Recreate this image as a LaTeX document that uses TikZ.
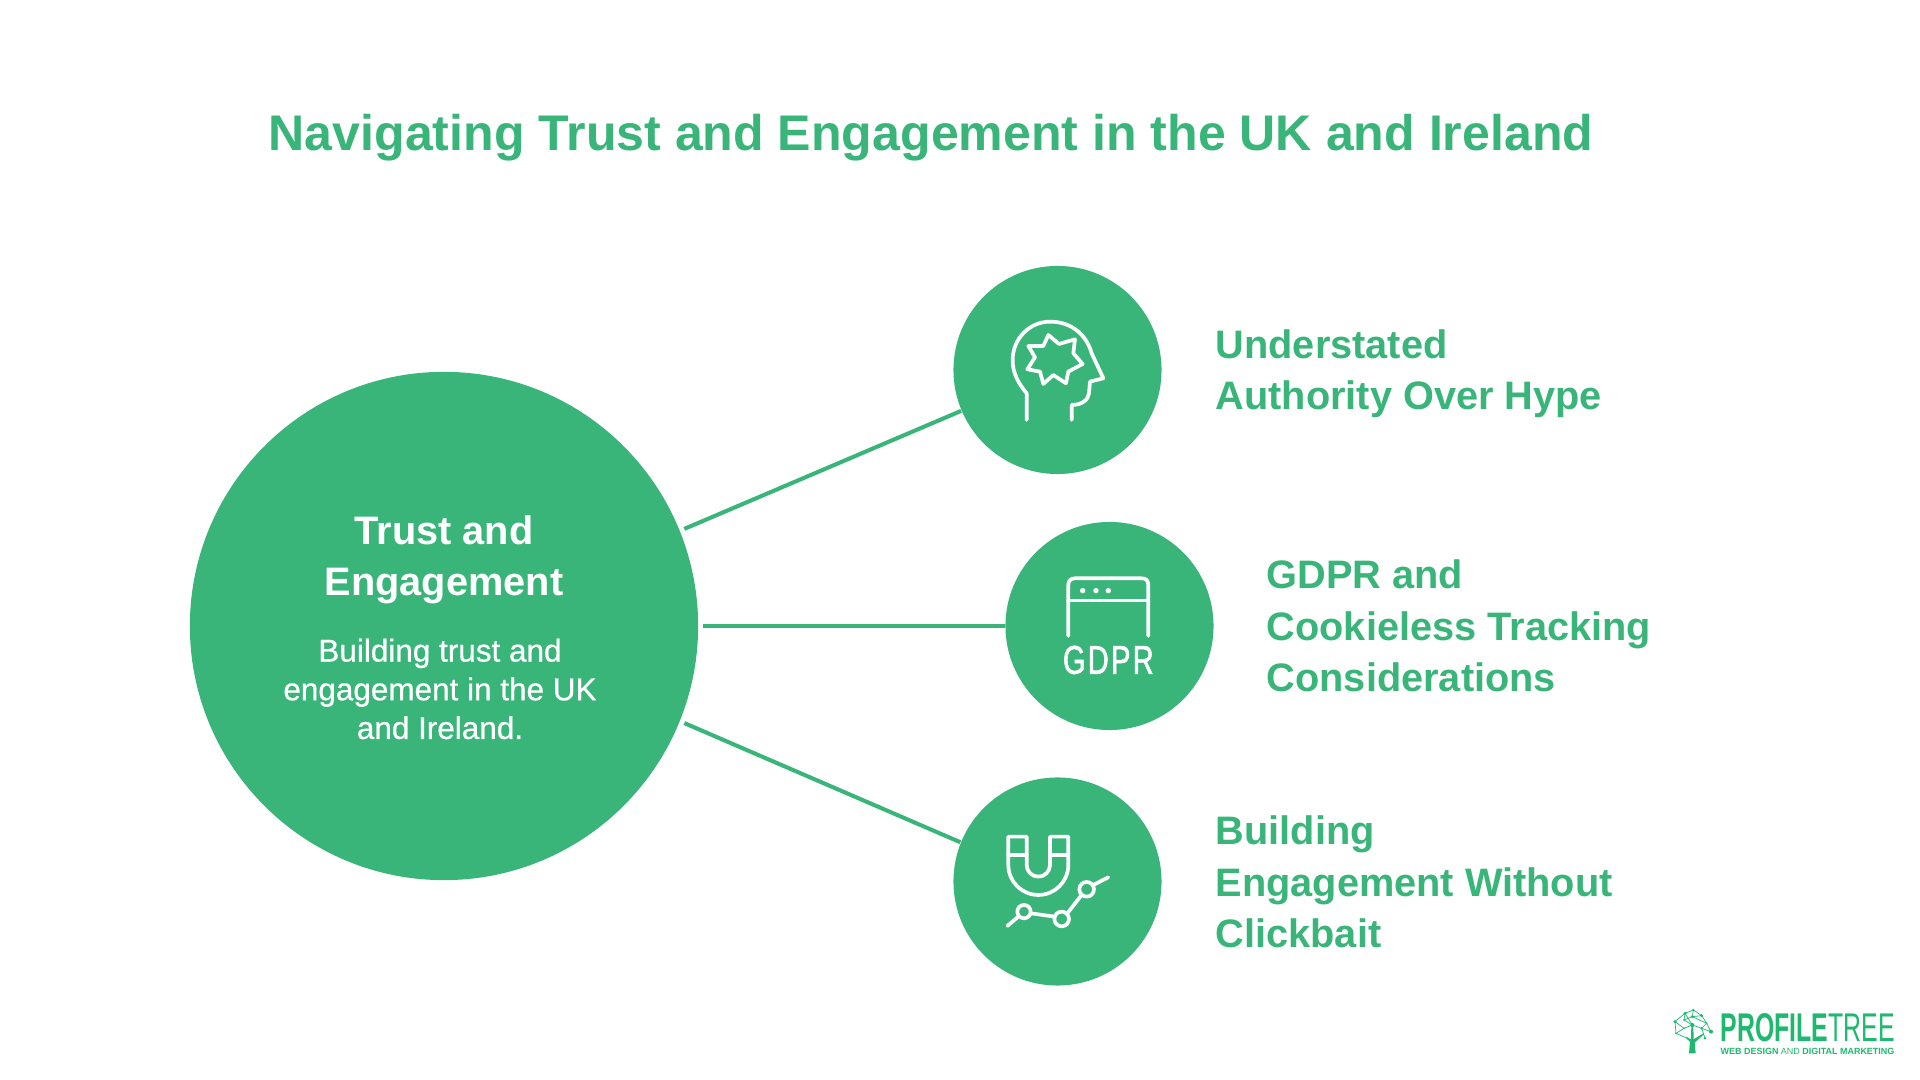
\documentclass[tikz,border=0pt]{standalone}
\usepackage{fontspec}
\setmainfont{Liberation Sans}
\newfontfamily\gdprfont[FakeStretch=0.72,LetterSpace=6,FakeBold=1.5]{Liberation Sans}
\newfontfamily\logofont[FakeStretch=0.62]{Liberation Sans}
\newfontfamily\bodyfont[FakeBold=0.6]{Liberation Sans}
\definecolor{mygreen}{RGB}{58,181,122}
\definecolor{logogreen}{RGB}{30,185,110}
\tikzset{
    hub/.style={circle,fill=mygreen,inner sep=0pt,minimum size=#1},
    spoke/.style={draw=mygreen,line width=1.15pt},
    itemtext/.style={anchor=west,align=left,text=mygreen,font=\fontsize{11.3}{14.6}\selectfont\bfseries,inner sep=0pt},
    icon/.style={draw=white,line width=1.05pt,line cap=round,line join=round},
    logoline/.style={draw=logogreen,line width=0.2pt},
    logodot/.style={fill=logogreen}
}
\begin{document}
\begin{tikzpicture}[x=0.01cm,y=-0.01cm]
    \useasboundingbox (0,0) rectangle (1920,1080);

    % Draw the title
    \node[text=mygreen,font=\fontsize{14.24}{17}\selectfont\bfseries,inner sep=0pt] (title) at (931,138) {Navigating Trust and Engagement in the UK and Ireland};

    % Draw the big circle and its text
    \node[hub=5.08cm,outer sep=0.05cm] (main) at (444,626) {};
    \node[align=center,text=white,font=\fontsize{11.3}{14.6}\selectfont\bfseries,inner sep=0pt] (maintitle) at (444,560) {Trust and\\Engagement};
    \node[align=center,text=white,font=\bodyfont\fontsize{8.95}{11}\selectfont,inner sep=0pt] (mainbody) at (440,689) {Building trust and\\engagement in the UK\\and Ireland.};

    % Draw the three small circles
    \node[hub=2.08cm] (head) at (1057.5,370) {};
    \node[hub=2.08cm] (gdpr) at (1109.5,626) {};
    \node[hub=2.08cm] (magnet) at (1057.5,881.5) {};

    % Draw the connectors
    \draw[spoke] (main.22.5) -- (head.203);
    \draw[spoke] (main.0) -- (gdpr.180);
    \draw[spoke] (main.-22.5) -- (magnet.158);

    % Draw the item labels
    \node[itemtext] (headtext) at (1215,374) {Understated\\Authority Over Hype};
    \node[itemtext] (gdprtext) at (1266,626) {GDPR and\\Cookieless Tracking\\Considerations};
    \node[itemtext] (magnettext) at (1215,882) {Building\\Engagement Without\\Clickbait};

    % Draw the head icon
    \begin{scope}[shift={(940,250)},scale=0.3333]
        \draw[icon] (260,510) -- (260,430) .. controls (235,400) and (218,370) .. (218,330)
            .. controls (218,265) and (270,215) .. (330,215)
            .. controls (395,215) and (440,255) .. (455,310) -- (490,385) -- (450,395) -- (447,430)
            .. controls (445,450) and (425,465) .. (395,465) -- (395,510);
        \draw[icon] (325,255) -- (357,282) -- (405,268) -- (400,310) -- (428,342) -- (385,365) -- (378,400)
            -- (340,375) -- (310,402) -- (300,365) -- (262,358) -- (285,322) -- (265,288) -- (310,288) -- cycle;
    \end{scope}

    % Draw the GDPR icon
    \begin{scope}[shift={(1000,510)},scale=0.3333]
        \draw[icon] (205,378) -- (205,225) .. controls (205,212) and (212,205) .. (225,205) -- (425,205)
            .. controls (438,205) and (445,212) .. (445,225) -- (445,378);
        \draw[icon] (205,272) -- (445,272);
        \foreach \dotx in {248,288,325}
            \fill[white] (\dotx,242) circle (8);
        \node[text=white,font=\gdprfont\fontsize{11.4}{12}\selectfont,inner sep=0pt] (gdprword) at (325,450) {GDPR};
    \end{scope}

    % Draw the magnet icon
    \begin{scope}[shift={(950,770)},scale=0.3333]
        \draw[icon] (175,200) -- (175,285) arc (180:0:90) -- (355,200) -- (300,200) -- (300,285)
            arc (0:180:35) -- (230,200) -- cycle;
        \draw[icon] (175,255) -- (230,255);
        \draw[icon] (300,255) -- (355,255);
        \draw[icon] (222,425) circle (20);
        \draw[icon] (335,447) circle (22);
        \draw[icon] (410,358) circle (22);
        \draw[icon] (172,468) -- (205,440);
        \draw[icon] (242,430) -- (315,440);
        \draw[icon] (352,430) -- (395,375);
        \draw[icon] (430,345) -- (475,322);
    \end{scope}

    % Draw the logo
    \begin{scope}[shift={(1660,1000)},scale=0.3333]
        \foreach \ax/\ay/\bx/\by in {45/65/75/40,75/40/100/30,100/30/125/47,125/47/140/70,140/70/153/95,
            45/65/48/100,48/100/72/85,72/85/97/75,97/75/125/85,125/85/135/115,45/65/72/85,75/40/97/75,
            100/30/97/50,97/50/125/47,97/50/72/60,72/60/75/40,72/60/97/75,97/50/140/70,125/85/153/95,
            125/85/140/70,48/100/75/112}
            \draw[logoline] (\ax,\ay) -- (\bx,\by);
        \foreach \ax/\ay/\rr in {45/65/5,75/40/5,100/30/4,97/50/5,125/47/5,140/70/3,153/95/6,48/100/3,
            72/85/3,97/75/6,125/85/4,135/115/4,72/60/3}
            \fill[logodot] (\ax,\ay) circle (\rr);
        \fill[logogreen] (87,160) -- (90,125) -- (75,112) -- (78,110) -- (93,118) -- (94,78) -- (100,78) -- (101,118)
            -- (130,100) -- (132,103) -- (104,128) -- (107,160) -- cycle;
        \node[anchor=base west,text=logogreen,font=\logofont\fontsize{11.4}{12}\selectfont,inner sep=0pt] (logoname) at (180,125)
            {\textbf{PROFILE}TREE};
        \node[anchor=base west,text=logogreen,font=\fontsize{2.55}{4}\selectfont,inner sep=0pt] (logosub) at (180,163)
            {\textbf{WEB DESIGN} AND \textbf{DIGITAL MARKETING}};
    \end{scope}
\end{tikzpicture}
\end{document}
